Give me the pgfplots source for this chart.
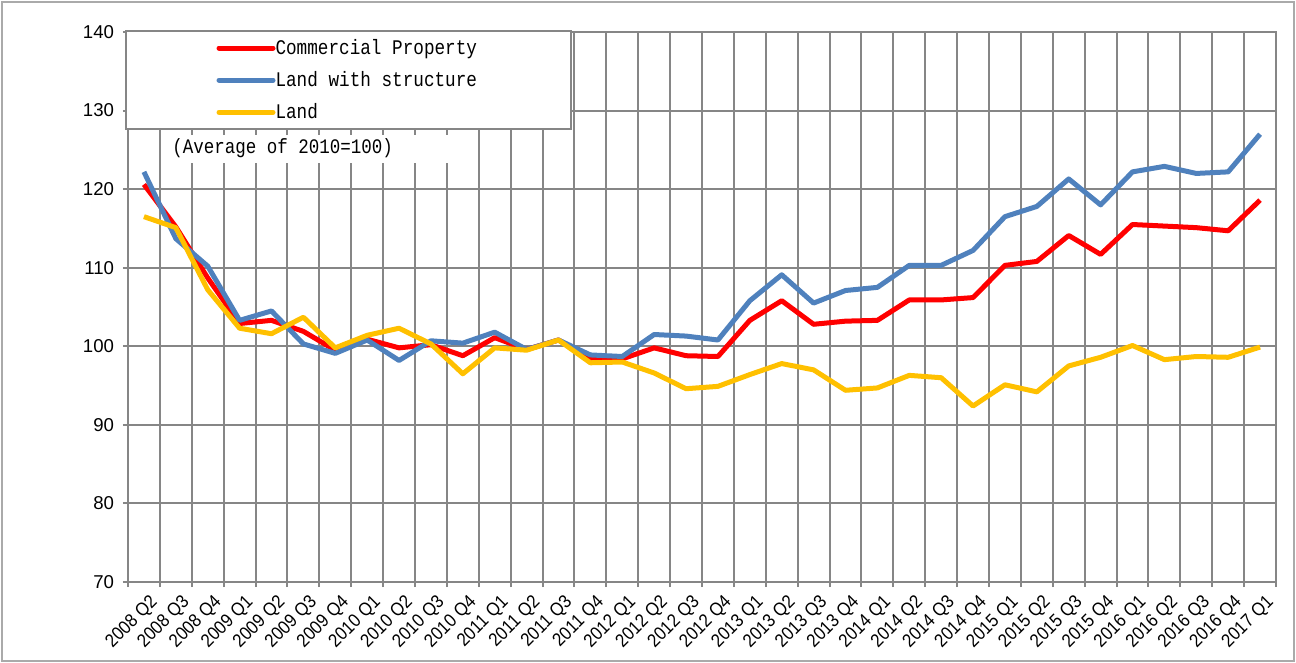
\documentclass[border=0pt]{standalone}
\usepackage{fontspec}
\setmainfont{Liberation Sans}
\newfontfamily\legfont[FakeStretch=0.85]{Liberation Mono}
\newfontfamily\tickfont[FakeStretch=0.9]{Liberation Sans}
\usepackage{pgfplots}
\pgfplotsset{compat=1.18}
\usepackage{pgfplotstable}
\definecolor{cred}{RGB}{255,0,0}
\definecolor{cblue}{RGB}{79,129,189}
\definecolor{cyellow}{RGB}{255,192,0}
\definecolor{cgrid}{RGB}{134,134,134}
\definecolor{cframe}{RGB}{170,170,170}

\pgfplotstableread{
x red blue yellow
0.5 120.6 122.2 116.5
1.5 115.2 113.7 115.1
2.5 108.7 110.2 107.2
3.5 102.9 103.3 102.3
4.5 103.3 104.5 101.6
5.5 101.9 100.3 103.7
6.5 99.5 99.1 99.8
7.5 100.9 100.8 101.4
8.5 99.8 98.2 102.3
9.5 100.2 100.7 100.3
10.5 98.8 100.4 96.5
11.5 101.1 101.8 99.8
12.5 99.6 99.6 99.5
13.5 100.8 100.8 100.8
14.5 98.5 98.9 97.9
15.5 98.4 98.7 98.0
16.5 99.8 101.5 96.6
17.5 98.8 101.3 94.6
18.5 98.7 100.8 94.9
19.5 103.3 105.8 96.4
20.5 105.8 109.1 97.8
21.5 102.8 105.5 97.0
22.5 103.2 107.1 94.4
23.5 103.3 107.5 94.7
24.5 105.9 110.3 96.3
25.5 105.9 110.3 96.0
26.5 106.2 112.2 92.4
27.5 110.3 116.5 95.1
28.5 110.8 117.8 94.2
29.5 114.1 121.3 97.5
30.5 111.7 118.0 98.6
31.5 115.5 122.2 100.1
32.5 115.3 122.9 98.3
33.5 115.1 122.0 98.7
34.5 114.7 122.2 98.6
35.5 118.6 127.0 99.9
}\datatable

\begin{document}
\begin{tikzpicture}
\useasboundingbox (-64bp,-40.5bp) rectangle (584bp,291bp);
\draw[cframe, line width=0.6bp] (-63bp,-39.5bp) rectangle (583bp,290bp);
\begin{axis}[
  at={(0,0)}, anchor=south west,
  scale only axis,
  width=574bp, height=275bp,
  xmin=0, xmax=36, ymin=70, ymax=140,
  xtick={0,...,36},
  x tick label as interval=true,
  xticklabels={2008 Q2,2008 Q3,2008 Q4,2009 Q1,2009 Q2,2009 Q3,2009 Q4,2010 Q1,2010 Q2,2010 Q3,2010 Q4,2011 Q1,2011 Q2,2011 Q3,2011 Q4,2012 Q1,2012 Q2,2012 Q3,2012 Q4,2013 Q1,2013 Q2,2013 Q3,2013 Q4,2014 Q1,2014 Q2,2014 Q3,2014 Q4,2015 Q1,2015 Q2,2015 Q3,2015 Q4,2016 Q1,2016 Q2,2016 Q3,2016 Q4,2017 Q1},
  ytick={70,80,...,140},
  grid=major,
  grid style={cgrid, line width=1bp},
  axis line style={cgrid, line width=1bp},
  tick style={cgrid, line width=1bp},
  tick align=outside,
  major tick length=2.5bp,
  xtick pos=bottom, ytick pos=left,
  /pgf/number format/assume math mode=true,
  yticklabel style={font=\fontsize{9.3bp}{11bp}\selectfont, xshift=-1bp},
  xticklabel style={font=\tickfont\fontsize{9.3bp}{11bp}\selectfont, rotate=45, anchor=north east, inner sep=1.5bp, yshift=-2.5bp, xshift=1bp},
  legend style={at={(rel axis cs:-0.0026,1.0036)}, anchor=north west,
    draw=cgrid, line width=1bp, fill=white, inner xsep=0pt, inner ysep=4bp,
    font=\legfont\fontsize{10.4bp}{12bp}\selectfont,
    row sep=7bp, column sep=0bp,
    nodes={inner sep=0pt}},
  legend cell align=left,
  legend image code/.code={\path[draw=none] (-46.5bp,0) -- (0,0); \draw[line width=2.5bp, line cap=round] (0bp,0bp) -- (27bp,0bp);},
]
\fill[white] (rel axis cs:0.0296,0.7618) rectangle (rel axis cs:0.3023,0.8127);
\node[anchor=west, inner sep=0pt, font=\legfont\fontsize{10.3bp}{12bp}\selectfont] at (rel axis cs:0.0383,0.789) {(Average of 2010=100)};
\addplot[cred, line width=2.5bp, line join=round] table[x=x, y=red] {\datatable};
\addlegendentry{\makebox[147.5bp][l]{Commercial Property}}
\addplot[cblue, line width=2.5bp, line join=round] table[x=x, y=blue] {\datatable};
\addlegendentry{\makebox[147.5bp][l]{Land with structure}}
\addplot[cyellow, line width=2.5bp, line join=round] table[x=x, y=yellow] {\datatable};
\addlegendentry{\makebox[147.5bp][l]{Land}}
\end{axis}
\end{tikzpicture}
\end{document}
